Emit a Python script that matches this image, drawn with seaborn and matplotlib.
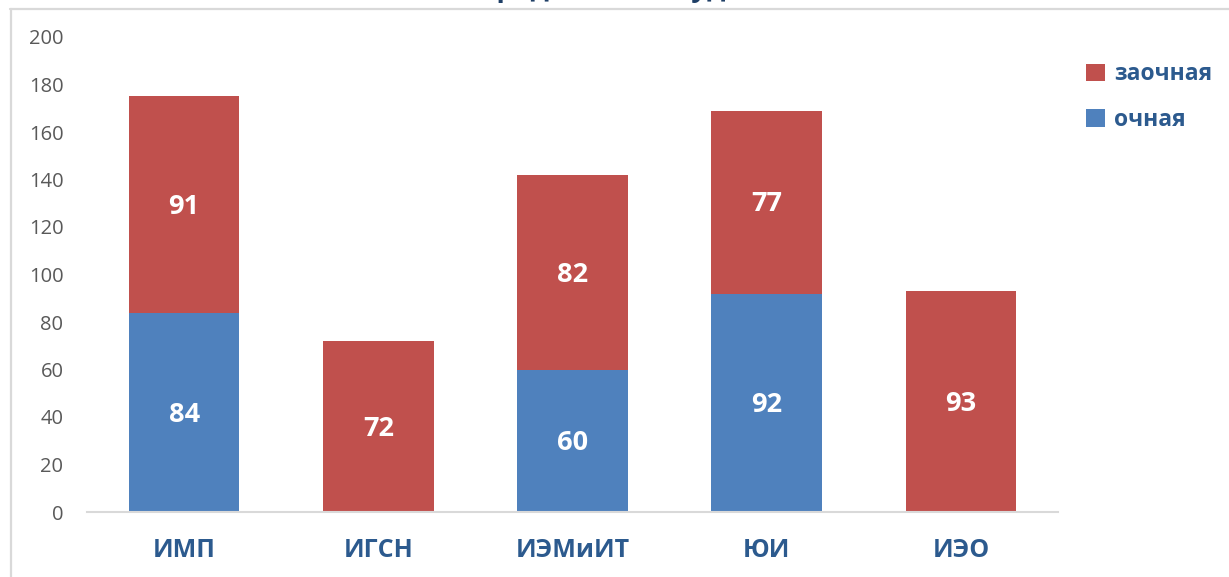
import matplotlib
matplotlib.use("Agg")
import matplotlib.pyplot as plt
from matplotlib.patches import Patch
from matplotlib.lines import Line2D
import seaborn as sns
import pandas as pd

categories = ["ИМП", "ИГСН", "ИЭМиИТ", "ЮИ", "ИЭО"]
ochnaya = [84, 0, 60, 92, 0]
zaochnaya = [91, 72, 82, 77, 93]
yticks = [0, 20, 40, 60, 80, 100, 120, 140, 160, 180, 200]
title_text = "Распределение студентов"

BLUE = "#4F81BD"
RED = "#C0504D"
NAVY = "#2C5A8E"
GREY = "#595959"

sns.set_theme(style="white")
plt.rcParams["font.family"] = ["Open Sans", "DejaVu Sans"]

df = pd.DataFrame({"cat": categories, "och": ochnaya, "zao": zaochnaya})
df["total"] = df["och"] + df["zao"]

W, H = 1229, 577
fig = plt.figure(figsize=(W / 100, H / 100), dpi=100)
ax = fig.add_axes([87 / W, 1 - 512 / H, (1058 - 87) / W, (512 - 37) / H])

sns.barplot(data=df, x="cat", y="total", order=categories, color=RED,
            width=0.57, saturation=1, linewidth=0, ax=ax)
sns.barplot(data=df, x="cat", y="och", order=categories, color=BLUE,
            width=0.57, saturation=1, linewidth=0, ax=ax)

for i, (o, z) in enumerate(zip(ochnaya, zaochnaya)):
    if o > 0:
        ax.text(i, o / 2 - 1, str(o), ha="center", va="center", color="white",
                fontsize=19.5, fontweight="bold")
    if z > 0:
        ax.text(i, o + z / 2 - 1, str(z), ha="center", va="center", color="white",
                fontsize=19.5, fontweight="bold")

ax.set_xlim(-0.5, 4.5)
ax.set_ylim(0, 200)
ax.set_yticks(yticks)
ax.set_yticklabels([str(t) for t in yticks], fontsize=14.5, color=GREY)
ax.tick_params(axis="y", length=0, pad=17)
ax.tick_params(axis="x", length=0, pad=19)
for lab in ax.get_xticklabels():
    lab.set_fontsize(18)
    lab.set_fontweight("bold")
    lab.set_color(NAVY)
ax.set_xlabel("")
ax.set_ylabel("")
for s in ["top", "right", "left"]:
    ax.spines[s].set_visible(False)
ax.spines["bottom"].set_color("#D9D9D9")
ax.spines["bottom"].set_linewidth(1.5)

handles = [Patch(facecolor=RED, edgecolor="none", label="заочная"),
           Patch(facecolor=BLUE, edgecolor="none", label="очная")]
leg = fig.legend(handles=handles, loc="upper left",
                 bbox_to_anchor=(1068 / W, 1 - 44 / H), frameon=False,
                 prop={"size": 16.5, "weight": "bold"},
                 handlelength=0.8, handleheight=0.8, handletextpad=0.4,
                 labelspacing=0.95, borderpad=0.3)
for t in leg.get_texts():
    t.set_color(NAVY)

# frame lines
fig.add_artist(Line2D([10 / W, 1], [1 - 8.5 / H, 1 - 8.5 / H],
                      transform=fig.transFigure, color="#D9D9D9", lw=1.6))
fig.add_artist(Line2D([10.5 / W, 10.5 / W], [0, 1 - 8.5 / H],
                      transform=fig.transFigure, color="#D9D9D9", lw=1.6))

# partially cropped title (cut off at the top, as in the reference)
fig.text(620 / W, 1 + 4 / H, title_text, ha="center", va="baseline",
         fontsize=20, fontweight="bold", color="#1F3F66")

fig.savefig("out.png", dpi=100)
